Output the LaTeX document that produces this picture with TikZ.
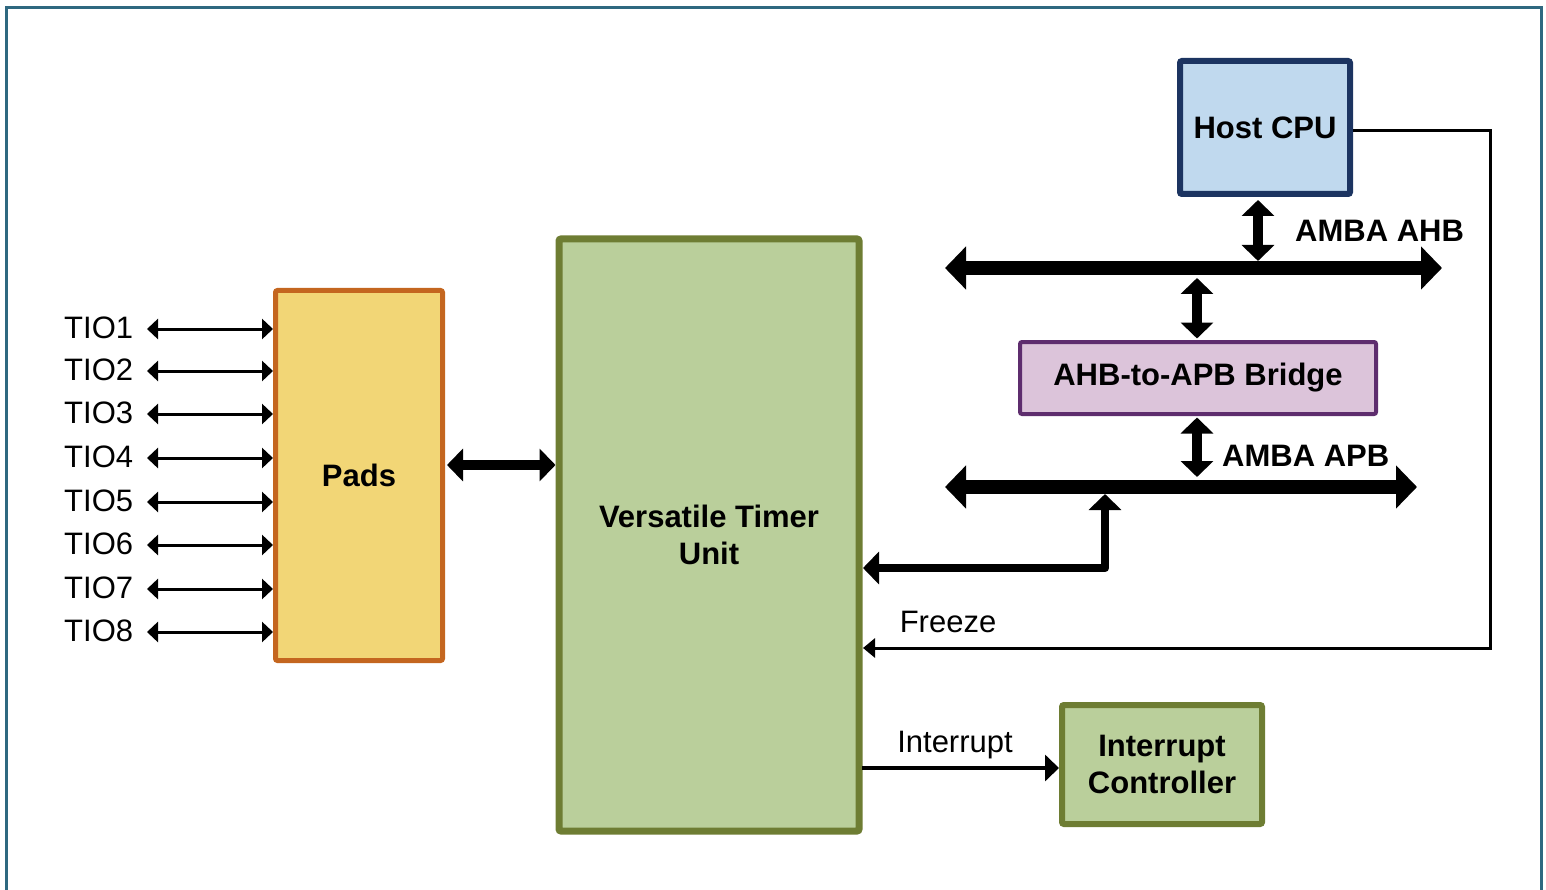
\documentclass[tikz,border=0pt]{standalone}
\usepackage{fontspec}
\setmainfont{Liberation Sans}
\usetikzlibrary{arrows.meta}
\definecolor{framec}{RGB}{47,104,128}
\definecolor{padfill}{RGB}{242,214,118}
\definecolor{paddraw}{RGB}{196,102,31}
\definecolor{grnfill}{RGB}{186,207,155}
\definecolor{grndraw}{RGB}{110,125,51}
\definecolor{cpufill}{RGB}{192,217,238}
\definecolor{cpudraw}{RGB}{28,52,97}
\definecolor{brfill}{RGB}{220,196,218}
\definecolor{brdraw}{RGB}{94,45,110}
\begin{document}
\begin{tikzpicture}[x=1pt,y=-1pt,
  every node/.style={font=\fontsize{31}{37}\selectfont, inner sep=0pt},
  blk/.style={rectangle, rounded corners=2pt, align=center, font=\fontsize{31}{37}\selectfont\bfseries},
  lbl/.style={font=\fontsize{31}{37}\selectfont},
  blbl/.style={font=\fontsize{31}{37}\selectfont\bfseries},
  tio/.style={line width=3pt, {Triangle[length=11pt,width=20pt]}-{Triangle[length=11pt,width=20pt]}},
  bus/.style={line width=14pt, {Triangle[length=21pt,width=42pt]}-{Triangle[length=21pt,width=42pt]}},
  vlink/.style={line width=10pt, {Triangle[length=16pt,width=32pt]}-{Triangle[length=16pt,width=32pt]}},
  mlink/.style={line width=8.5pt, line join=round, {Triangle[length=16pt,width=32pt]}-{Triangle[length=16pt,width=32pt]}},
  sig/.style={line width=3pt, -{Triangle[length=12pt,width=19pt]}},
  isig/.style={line width=4.5pt, -{Triangle[length=14pt,width=26pt]}}
]
\useasboundingbox (0,0) rectangle (1546,890);
% frame
\draw[framec, line width=3pt] (6,892) -- (6,8) -- (1541,8) -- (1541,892);

% blocks
\node[blk, draw=paddraw, fill=padfill, line width=5pt, minimum width=167pt, minimum height=370pt] (pads) at (359,475.5) {Pads};
\node[blk, draw=grndraw, fill=grnfill, line width=7pt, minimum width=300pt, minimum height=592pt] (vtu) at (709,535) {Versatile Timer\\Unit};
\node[blk, draw=cpudraw, fill=cpufill, line width=6pt, minimum width=170pt, minimum height=133pt] (cpu) at (1265,127.5) {Host CPU};
\node[blk, draw=brdraw, fill=brfill, line width=4pt, minimum width=356pt, minimum height=72pt] (bridge) at (1198,378) {AHB-to-APB Bridge};
\node[blk, draw=grndraw, fill=grnfill, line width=6pt, minimum width=200pt, minimum height=119pt] (ic) at (1162,764.5) {Interrupt\\Controller};

% TIO labels and arrows
\foreach \i/\y in {1/329,2/371,3/414,4/458,5/502,6/545,7/589,8/632}{
  \node[lbl, anchor=base west] (tiol\i) at (64,\y+9) {TIO\i};
  \coordinate (tio\i) at (147,\y);
  \draw[tio] (tio\i) -- (tio\i -| pads.west);
}

% pads <-> vtu
\coordinate (pv) at (447,465);
\draw[vlink] (pv) -- (pv -| vtu.west);

% buses
\coordinate (ahbL) at (945,268);
\coordinate (ahbR) at (1442,268);
\coordinate (apbL) at (945,487);
\coordinate (apbR) at (1417,487);
\draw[bus] (ahbL) -- (ahbR);
\draw[bus] (apbL) -- (apbR);
\node[blbl, anchor=base west] (ahblbl) at (1295,242) {AMBA AHB};
\node[blbl, anchor=base west] (apblbl) at (1222,466) {AMBA APB};

% vertical links
\coordinate (cpuB) at (1258,200);
\coordinate (ahbT) at (1258,261);
\draw[vlink] (cpuB) -- (ahbT);
\coordinate (ahbB) at (1197,278);
\coordinate (brT) at (1197,338.5);
\draw[vlink] (ahbB) -- (brT);
\coordinate (brB) at (1197,417.5);
\coordinate (apbT) at (1197,477);
\draw[vlink] (brB) -- (apbT);

% vtu <-> apb
\coordinate (vtuA) at (863,568);
\coordinate (apbU) at (1105,494);
\draw[mlink] (vtuA) -- (apbU |- vtuA) -- (apbU);

% freeze
\coordinate (fz) at (1490,131);
\draw[sig] (cpu.east |- fz) -- (fz) -- (1490,648) -- (863,648);
\node[lbl, anchor=base] (fzl) at (948,632) {Freeze};

% interrupt
\coordinate (it) at (862,768);
\draw[isig] (it) -- (it -| ic.west);
\node[lbl, anchor=base] (itl) at (955,752) {Interrupt};
\end{tikzpicture}
\end{document}
